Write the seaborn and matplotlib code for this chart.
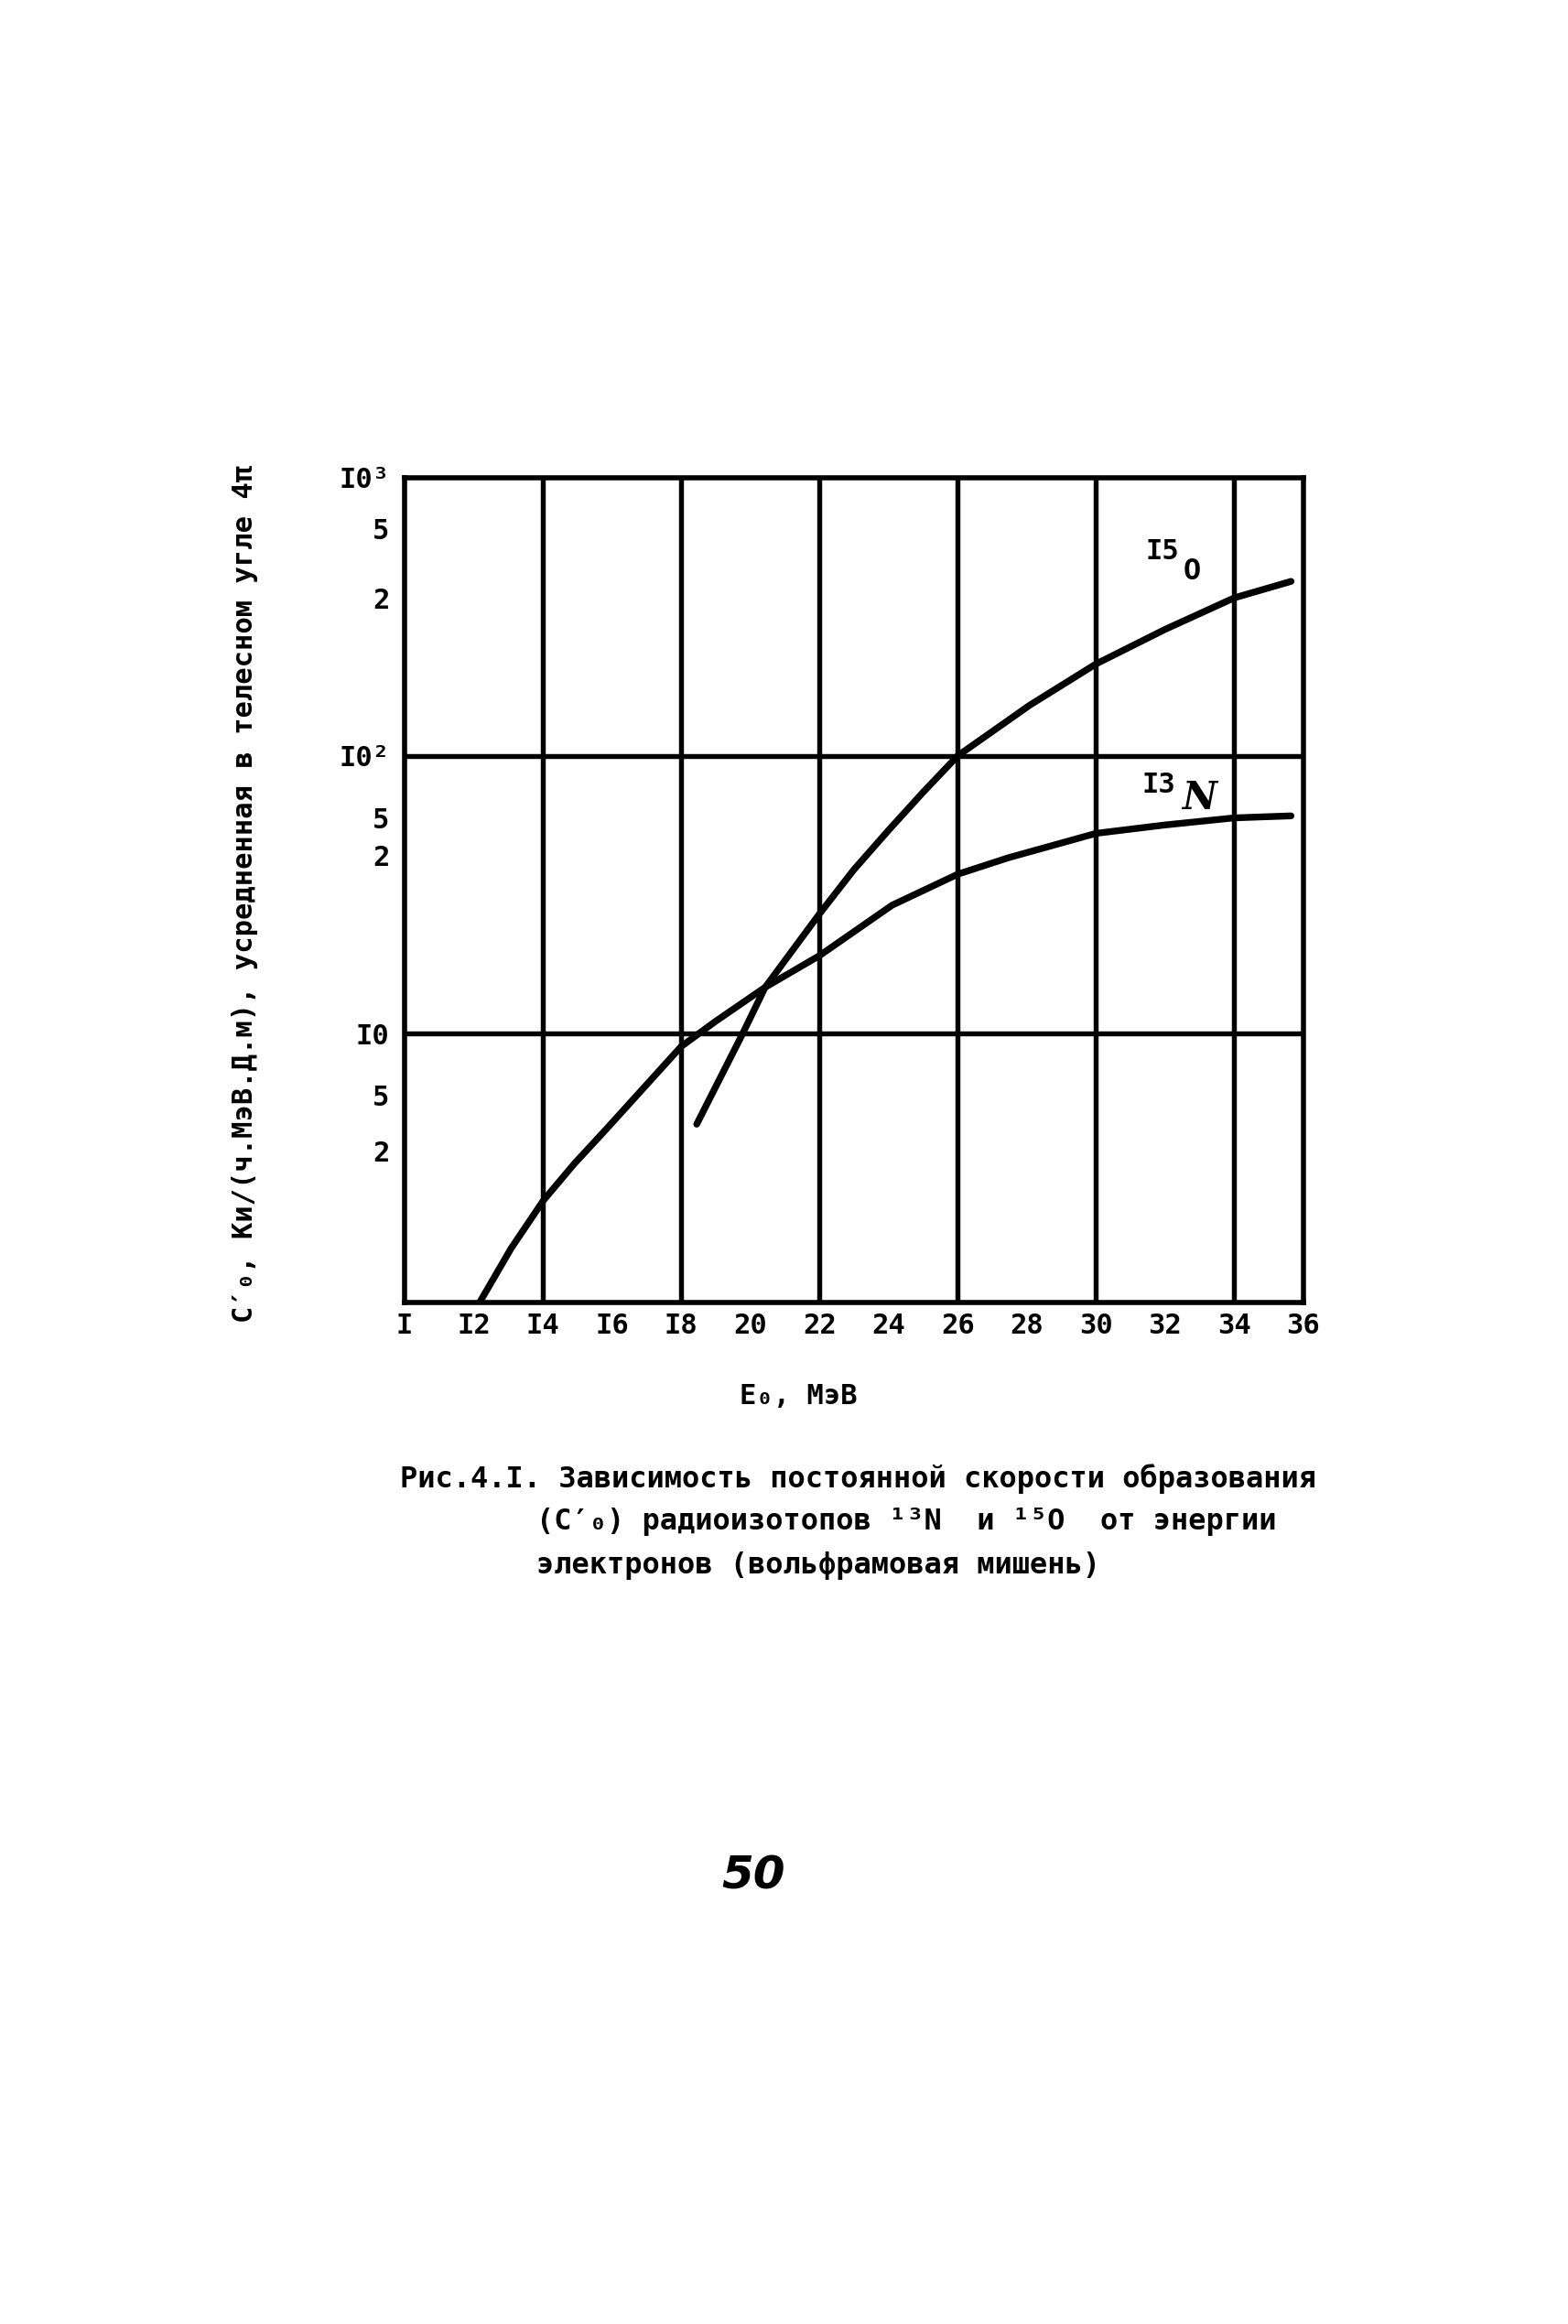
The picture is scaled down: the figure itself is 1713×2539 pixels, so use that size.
import numpy as np
import pandas as pd
import matplotlib
matplotlib.use("Agg")
import matplotlib.pyplot as plt
from matplotlib.ticker import NullLocator
import seaborn as sns

# ---------------- data ----------------
energy_N13 = [12.17, 13.08, 14.02, 14.91, 15.82, 18.0, 19.0, 20.43, 22.0, 24.1, 26.0, 27.47, 30.0, 32.0, 34.0, 35.64]
rate_N13 = [1.08, 1.69, 2.52, 3.41, 4.52, 9.0, 11.1, 14.7, 19.1, 29.0, 37.5, 43.0, 52.6, 56.4, 59.8, 60.8]

energy_O15 = [18.45, 19.75, 20.43, 22.0, 23.0, 24.0, 25.0, 26.0, 28.08, 30.0, 32.0, 34.0, 35.64]
rate_O15 = [4.73, 9.85, 14.7, 27.0, 39.0, 54.0, 74.0, 100.0, 152.0, 214.0, 285.0, 370.0, 424.0]

x_tick_values = [10, 12, 14, 16, 18, 20, 22, 24, 26, 28, 30, 32, 34, 36]
x_tick_labels = ["I", "I2", "I4", "I6", "I8", "20", "22", "24", "26", "28", "30", "32", "34", "36"]
y_tick_values = [1000, 658, 370, 100, 60, 44, 10, 6.0, 3.8]
y_tick_labels = ["I0³", "5", "2", "I0²", "5", "2", "I0", "5", "2"]
x_grid = [14, 18, 22, 26, 30, 34]
y_grid = [10, 100]

x_title = "E₀, МэВ"
y_title = "C′₀, Ки/(ч.МэВ.Д.м), усредненная в телесном угле 4π"
caption_lines = ["Рис.4.I. Зависимость постоянной скорости образования",
                 "(C′₀) радиоизотопов ¹³N  и ¹⁵O  от энергии",
                 "электронов (вольфрамовая мишень)"]
page_number = "50"

# ---------------- figure ----------------
sns.set_style("white")
plt.rcParams['font.family'] = ['DejaVu Sans Mono', 'DejaVu Sans']
plt.rcParams['font.weight'] = 'bold'
plt.rcParams['text.color'] = 'black'
plt.rcParams['xtick.color'] = 'black'
plt.rcParams['ytick.color'] = 'black'
plt.rcParams['axes.labelcolor'] = 'black'

W, H = 1713, 2539
fig = plt.figure(figsize=(W / 100, H / 100), dpi=100)
fig.patch.set_facecolor("white")

L, R, T, B = 442, 1424, 522, 1423
ax = fig.add_axes([L / W, 1 - B / H, (R - L) / W, (B - T) / H])

df = pd.concat([
    pd.DataFrame({"E": energy_N13, "C": rate_N13, "iso": "13N"}),
    pd.DataFrame({"E": energy_O15, "C": rate_O15, "iso": "15O"}),
], ignore_index=True)

for gx in x_grid:
    ax.axvline(gx, color="black", lw=3.9, zorder=1)
for gy in y_grid:
    ax.axhline(gy, color="black", lw=3.9, zorder=1)

sns.lineplot(data=df, x="E", y="C", hue="iso", units="iso", estimator=None, sort=False,
             palette={"13N": "black", "15O": "black"}, linewidth=5.3, legend=False,
             ax=ax, zorder=3)
for line in ax.get_lines():
    line.set_solid_capstyle("round")
    line.set_solid_joinstyle("round")

ax.set_yscale("log")
ax.set_xlim(10, 36)
ax.set_ylim(1.08, 1000)
ax.yaxis.set_minor_locator(NullLocator())
ax.xaxis.set_minor_locator(NullLocator())
ax.set_xticks(x_tick_values)
ax.set_xticklabels(x_tick_labels, fontsize=22, fontweight="bold", color="black")
ax.set_yticks(y_tick_values)
ax.set_yticklabels(y_tick_labels, fontsize=22, fontweight="bold", color="black")
ax.tick_params(axis="x", length=0, pad=8)
ax.tick_params(axis="y", length=0, pad=12)
ax.set_xlabel("")
ax.set_ylabel("")
for s in ax.spines.values():
    s.set_color("black")
    s.set_linewidth(4.0)
ax.grid(False)

# curve labels
ax.text(0.843, 0.911, "I5", transform=ax.transAxes, fontsize=22, ha="center", va="center")
ax.text(0.876, 0.886, "O", transform=ax.transAxes, fontsize=23, ha="center", va="center")
ax.text(0.839, 0.628, "I3", transform=ax.transAxes, fontsize=22, ha="center", va="center")
ax.text(0.884, 0.612, "N", transform=ax.transAxes, fontsize=30, ha="center", va="center",
        style="italic", family=["DejaVu Serif", "DejaVu Sans"])

# axis titles
fig.text(267 / W, 1 - 976 / H, y_title, rotation=90, ha="center", va="center", fontsize=22)
fig.text(872 / W, 1 - 1525 / H, x_title, ha="center", va="center", fontsize=22)

# caption
fig.text(437 / W, 1 - 1616 / H, caption_lines[0], ha="left", va="center", fontsize=23)
fig.text(586 / W, 1 - 1663 / H, caption_lines[1], ha="left", va="center", fontsize=23)
fig.text(586 / W, 1 - 1711 / H, caption_lines[2], ha="left", va="center", fontsize=23)

# page number
fig.text(823 / W, 1 - 2050 / H, page_number, ha="center", va="center", fontsize=36,
         style="italic", fontweight="bold", family=["DejaVu Sans"])

fig.savefig("out.png", dpi=100, facecolor="white")
